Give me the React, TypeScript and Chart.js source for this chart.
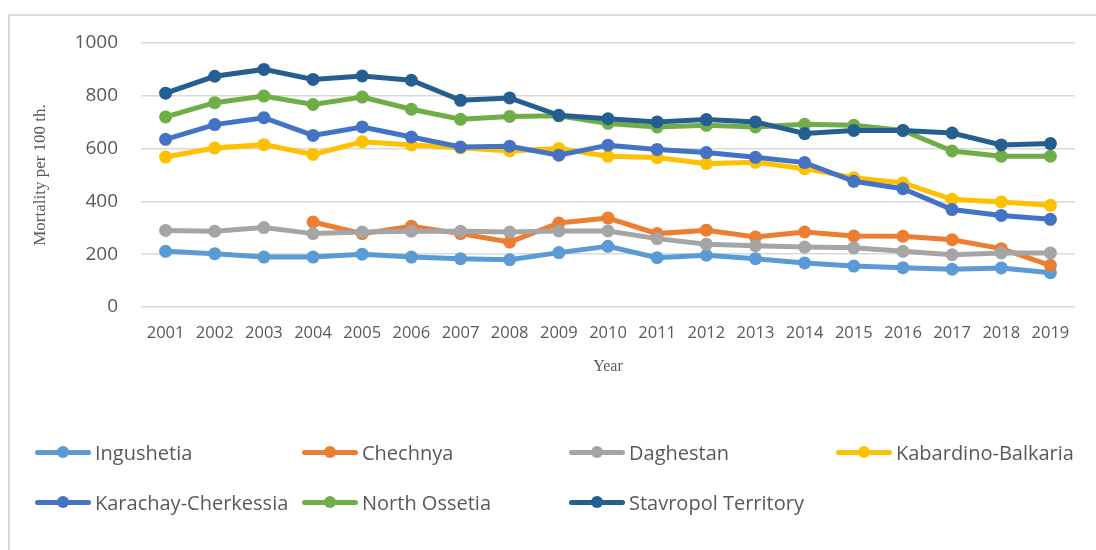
import React, { useEffect, useRef } from "react";
import { Chart, registerables } from "chart.js";

Chart.register(...registerables);

const years = ["2001","2002","2003","2004","2005","2006","2007","2008","2009","2010","2011","2012","2013","2014","2015","2016","2017","2018","2019"];
const yTicks = [0, 200, 400, 600, 800, 1000];

const ingushetia = [211, 202, 189, 189, 200, 189, 183, 179, 206, 230, 187, 196, 183, 167, 155, 149, 143, 148, 130];
const chechnya = [null, null, null, 322, 278, 306, 278, 246, 318, 337, 278, 291, 265, 284, 269, 268, 255, 221, 158];
const daghestan = [290, 287, 301, 278, 284, 287, 287, 284, 288, 288, 259, 238, 232, 227, 224, 211, 198, 205, 205];
const kabardino = [568, 602, 615, 578, 626, 614, 603, 591, 600, 571, 566, 543, 548, 524, 490, 470, 408, 398, 385];
const karachay = [635, 691, 717, 650, 682, 644, 606, 609, 575, 613, 597, 585, 567, 547, 476, 448, 369, 347, 332];
const northOssetia = [720, 774, 799, 767, 795, 749, 711, 722, 724, 695, 682, 688, 682, 692, 688, 669, 591, 571, 571];
const stavropol = [810, 874, 900, 862, 875, 859, 783, 792, 726, 713, 701, 710, 701, 657, 669, 669, 659, 614, 619];

const seriesNames = ["Ingushetia", "Chechnya", "Daghestan", "Kabardino-Balkaria", "Karachay-Cherkessia", "North Ossetia", "Stavropol Territory"];
const seriesData = [ingushetia, chechnya, daghestan, kabardino, karachay, northOssetia, stavropol];
const seriesColors = ["#5B9BD5", "#ED7D31", "#A5A5A5", "#FFC000", "#4472C4", "#70AD47", "#255E91"];

const SANS = "'Open Sans', 'Liberation Sans', sans-serif";
const SERIF = "'Liberation Serif', 'DejaVu Serif', serif";
const TEXT = "#595959";

export default function App() {
  const ref = useRef<HTMLCanvasElement | null>(null);

  useEffect(() => {
    if (!ref.current) return;
    const chart = new Chart(ref.current, {
      type: "line",
      data: {
        labels: years,
        datasets: seriesNames.map((name, i) => ({
          label: name,
          data: seriesData[i],
          borderColor: seriesColors[i],
          backgroundColor: seriesColors[i],
          pointBackgroundColor: seriesColors[i],
          pointBorderColor: seriesColors[i],
          borderWidth: 5,
          pointRadius: 6.5,
          pointBorderWidth: 0,
          tension: 0,
          order: seriesNames.length - i,
          spanGaps: false,
        })),
      },
      options: {
        animation: false,
        responsive: true,
        maintainAspectRatio: false,
        layout: { padding: { top: 43, right: 21, bottom: 153, left: 0 } },
        plugins: { legend: { display: false }, tooltip: { enabled: false } },
        scales: {
          x: {
            offset: true,
            grid: { display: false, drawTicks: false },
            border: { display: false },
            ticks: { color: TEXT, font: { family: SANS, size: 16.5 }, padding: 16, maxRotation: 0, autoSkip: false },
            title: { display: true, text: "Year", color: TEXT, font: { family: SERIF, size: 16 }, padding: { top: 0, bottom: 21 } },
            afterFit: (s: any) => { s.height = 90; },
          },
          y: {
            min: 0,
            max: 1000,
            afterBuildTicks: (s: any) => { s.ticks = yTicks.map((v) => ({ value: v })); },
            grid: { color: "#d9d9d9", lineWidth: 1.5, drawTicks: false },
            border: { display: false },
            ticks: { color: TEXT, font: { family: SANS, size: 19 }, padding: 23, callback: (v: any) => String(v) },
            title: { display: true, text: "Mortality per 100 th.", color: TEXT, font: { family: SERIF, size: 17 }, padding: { top: 30, bottom: 0 } },
            afterFit: (s: any) => { s.width = 141; },
          },
        },
      },
    });
    return () => chart.destroy();
  }, []);

  const rows = [[0, 1, 2, 3], [4, 5, 6]];
  const rowY = [452, 502];

  return (
    <div style={{ position: "absolute", left: 0, top: 0, width: 1096, height: 550, background: "#fff", overflow: "hidden" }}>
      <div style={{ position: "absolute", left: 8, top: 14, width: 1096, height: 550, borderTop: "2px solid #d9d9d9", borderLeft: "2px solid #d9d9d9", boxSizing: "border-box" }} />
      <canvas ref={ref} style={{ position: "absolute", left: 0, top: 0, width: 1096, height: 550 }} />
      {rows.map((row, r) =>
        row.map((idx, c) => (
          <div key={idx} style={{ position: "absolute", left: 35 + c * 267, top: rowY[r] - 15, height: 30, display: "flex", alignItems: "center", whiteSpace: "nowrap" }}>
            <div style={{ position: "relative", width: 56, height: 5, background: seriesColors[idx], borderRadius: 2.5 }}>
              <div style={{ position: "absolute", left: 22, top: -3.5, width: 12, height: 12, borderRadius: 6, background: seriesColors[idx] }} />
            </div>
            <span style={{ marginLeft: 4, fontFamily: SANS, fontSize: 20, color: TEXT }}>{seriesNames[idx]}</span>
          </div>
        ))
      )}
    </div>
  );
}
